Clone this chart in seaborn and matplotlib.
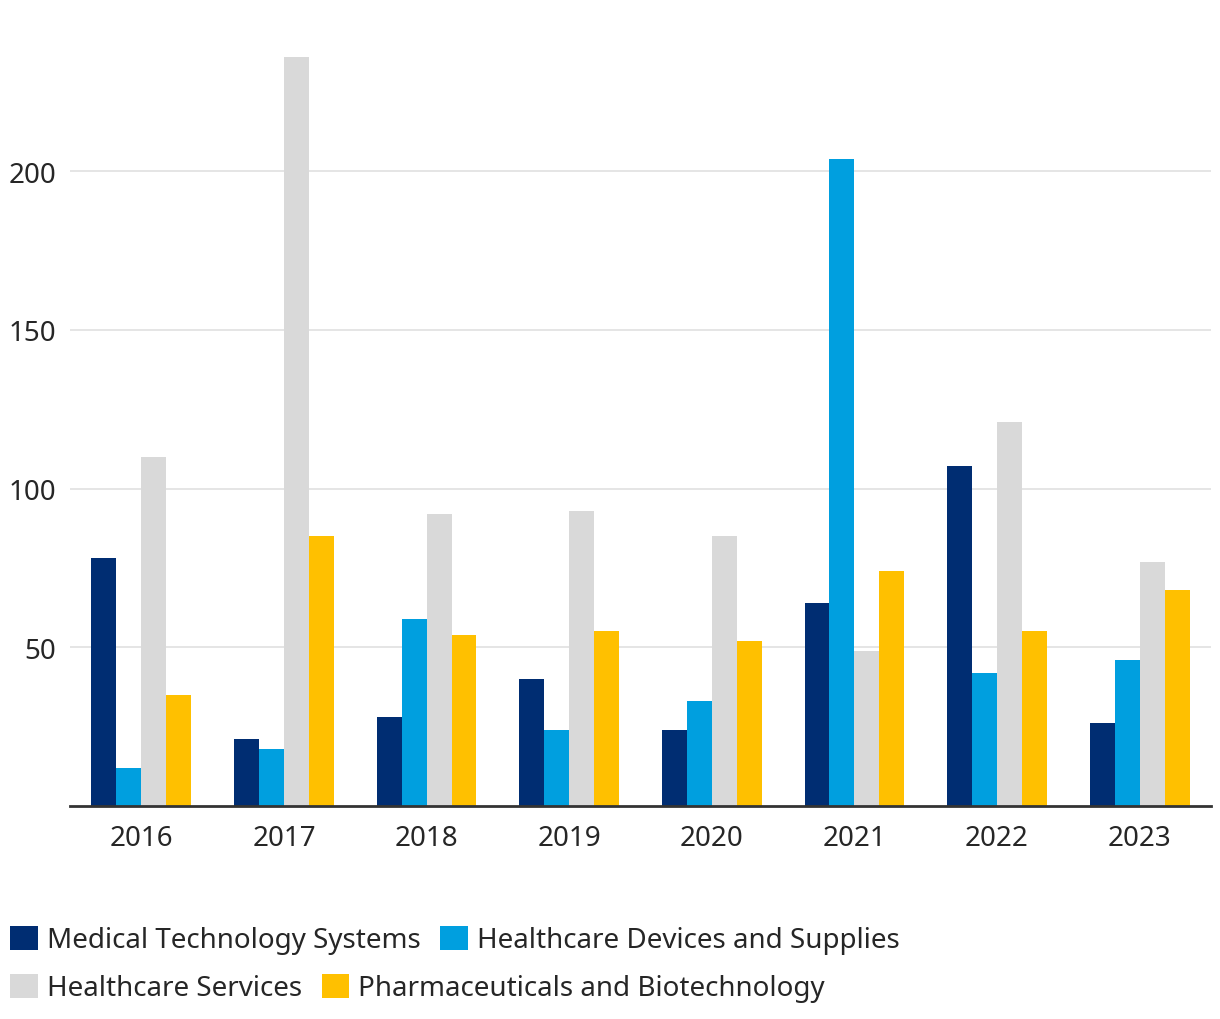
import matplotlib
matplotlib.use("Agg")
import matplotlib.pyplot as plt
from matplotlib.patches import Patch
import seaborn as sns
import pandas as pd

years = ["2016", "2017", "2018", "2019", "2020", "2021", "2022", "2023"]
series_names = ["Medical Technology Systems", "Healthcare Devices and Supplies",
                "Healthcare Services", "Pharmaceuticals and Biotechnology"]
med_tech = [78, 21, 28, 40, 24, 64, 107, 26]
devices = [12, 18, 59, 24, 33, 204, 42, 46]
services = [110, 236, 92, 93, 85, 49, 121, 77]
pharma = [35, 85, 54, 55, 52, 74, 55, 68]
colors = ["#002d72", "#009fdf", "#d9d9d9", "#ffc000"]

# long table for seaborn
rows = []
for name, vals in zip(series_names, [med_tech, devices, services, pharma]):
    for y, v in zip(years, vals):
        rows.append({"Year": y, "Series": name, "Value": v})
df = pd.DataFrame(rows)

sns.set_style("white")
plt.rcParams['font.family'] = ['Noto Sans', 'DejaVu Sans']
txt = "#262626"

fig = plt.figure(figsize=(12.2, 10.2), dpi=100)
ax = fig.add_axes([70 / 1220, 1 - 807 / 1020, 1141 / 1220, 787 / 1020])

sns.barplot(data=df, x="Year", y="Value", hue="Series", hue_order=series_names,
            palette=colors, width=0.7, saturation=1, linewidth=0, ax=ax, legend=False)

ax.set_xlim(-0.5, 7.5)
ax.set_ylim(0, 248)
ax.set_yticks([50, 100, 150, 200])
ax.grid(axis="y", color="#e3e3e3", linewidth=1.3)
ax.set_axisbelow(True)
ax.set_xlabel("")
ax.set_ylabel("")
for s in ["top", "right", "left"]:
    ax.spines[s].set_visible(False)
ax.spines["bottom"].set_color("#333333")
ax.spines["bottom"].set_linewidth(2)
ax.tick_params(axis="both", length=0, labelsize=20, colors=txt)
ax.tick_params(axis="y", pad=10)
ax.tick_params(axis="x", pad=13)

# legend in two flowing rows
handles = [Patch(facecolor=c, edgecolor="none") for c in colors]
leg_kw = dict(ncol=2, frameon=False, fontsize=20, handlelength=1.0, handleheight=1.0,
              handletextpad=0.33, columnspacing=0.7, borderpad=0, borderaxespad=0,
              loc="center left", labelcolor=txt)
fig.legend(handles[:2], series_names[:2],
           bbox_to_anchor=(10 / 1220, 1 - 941 / 1020), **leg_kw)
fig.legend(handles[2:], series_names[2:],
           bbox_to_anchor=(10 / 1220, 1 - 989 / 1020), **leg_kw)

fig.savefig("out.png", dpi=100)
